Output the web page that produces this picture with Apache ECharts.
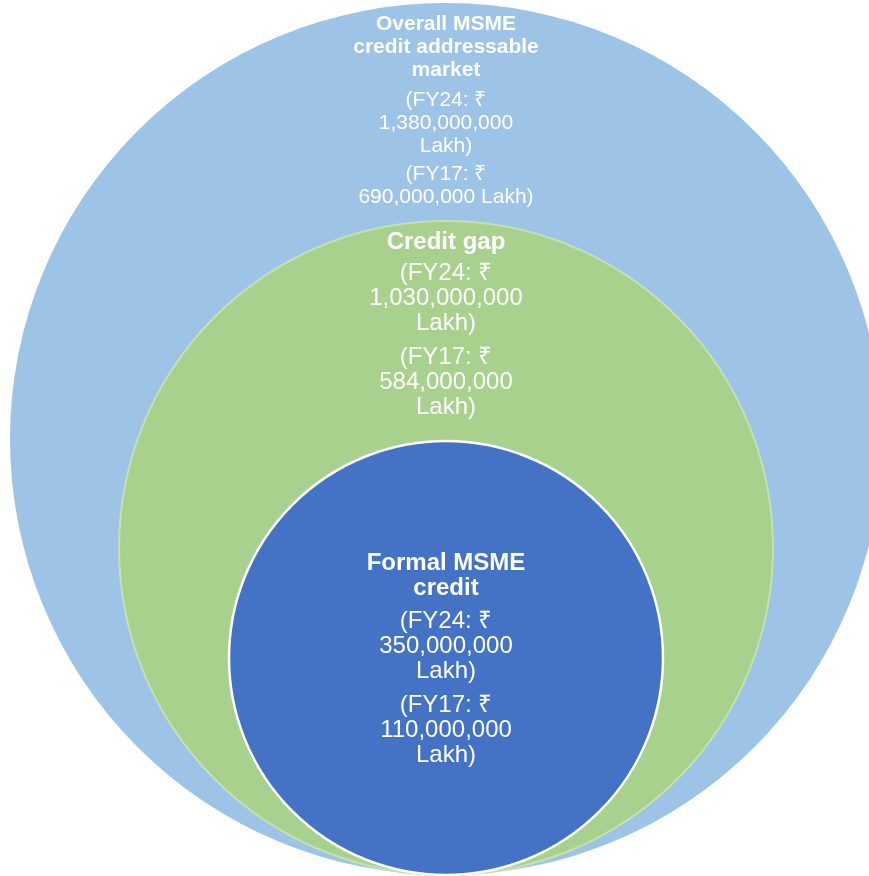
<!DOCTYPE html>
<html>
<head>
<meta charset="utf-8">
<title>MSME credit gap</title>
<script src="https://cdn.jsdelivr.net/npm/echarts@6/dist/echarts.min.js"></script>
<style>
  html, body { margin: 0; padding: 0; background: #fff; }
  #chart { width: 869px; height: 876px; }
</style>
</head>
<body>
<div id="chart"></div>
<script>
// data
const circleNames = ['Overall MSME\ncredit addressable\nmarket', 'Credit gap', 'Formal MSME\ncredit'];
const fy24Lakh = [1380000000, 1030000000, 350000000];
const fy17Lakh = [690000000, 584000000, 110000000];
const circleRadius = [436, 327, 217]; // chart units, circles share the bottom point

// styles
const fills = ['#9DC3E6', '#A9D18E', '#4472C4'];
const strokes = [null, '#C5E0B4', '#FFFFFF'];
const strokeWidths = [0, 2, 2.5];
const fontSizes = [21, 24, 24];
const lineHeights = [23, 25, 25];
const textStart = [9.5, 8.5, 109.5]; // px below the circle top
const blockGaps = [[7, 5], [6, 9], [8, 9]];
const CENTER_X = 446;
const BASE_Y = 1;

function fmt(v) {
  return v.toLocaleString('en-US');
}

function valueText(label, v, joinLakh) {
  return '(' + label + ': ₹\n' + fmt(v) + (joinLakh ? ' Lakh)' : '\nLakh)');
}

const chart = echarts.init(document.getElementById('chart'));

function renderItem(params, api) {
  const i = params.dataIndex;
  const r = api.value(1);
  const c = api.coord([CENTER_X, BASE_Y + r]);
  const rad = api.size([r, 0])[0];
  const lh = lineHeights[i];
  const blocks = [
    { text: circleNames[i], bold: true },
    { text: valueText('FY24', fy24Lakh[i], false), bold: false },
    { text: valueText('FY17', fy17Lakh[i], i === 0), bold: false }
  ];
  const children = [{
    type: 'circle',
    shape: { cx: c[0], cy: c[1], r: rad },
    style: {
      fill: fills[i],
      stroke: strokes[i] || 'none',
      lineWidth: strokeWidths[i]
    }
  }];
  let y = c[1] - rad + textStart[i];
  blocks.forEach((b, k) => {
    const n = b.text.split('\n').length;
    children.push({
      type: 'text',
      style: {
        text: b.text,
        x: c[0],
        y: y,
        align: 'center',
        verticalAlign: 'top',
        fill: '#FFFFFF',
        fontFamily: '"Liberation Sans", Arial, sans-serif',
        fontSize: fontSizes[i],
        fontWeight: b.bold ? 'bold' : 'normal',
        lineHeight: lh
      }
    });
    y += n * lh + (blockGaps[i][k] || 0);
  });
  return { type: 'group', children: children };
}

const option = {
  animation: false,
  grid: { left: 0, right: 0, top: 0, bottom: 0 },
  xAxis: { type: 'value', min: 0, max: 869, show: false },
  yAxis: { type: 'value', min: 0, max: 876, show: false },
  series: [{
    type: 'custom',
    renderItem: renderItem,
    clip: false,
    data: circleRadius.map((r, i) => [i, r])
  }]
};

chart.setOption(option);
</script>
</body>
</html>
